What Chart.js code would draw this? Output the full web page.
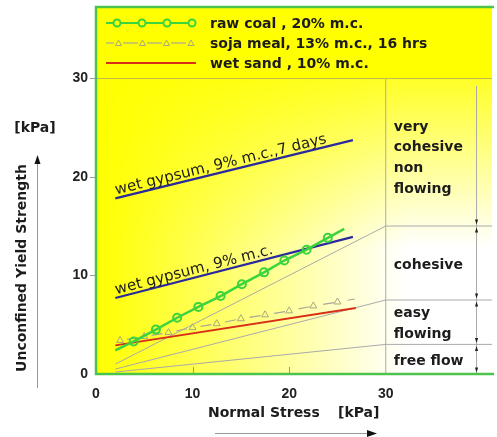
<!DOCTYPE html>
<html><head><meta charset="utf-8">
<script src="https://cdn.jsdelivr.net/npm/chart.js@4.4.1/dist/chart.umd.min.js"></script>
<style>html,body{margin:0;padding:0;background:#fff;overflow:hidden}#wrap{width:497px;height:437px;position:relative}</style>
</head><body><div id="wrap"><canvas id="c"></canvas></div>
<script>
// ---- data ----
const xTicks = [0, 10, 20, 30];
const yTicks = [0, 10, 20, 30];

const legendLabels = ['raw coal , 20% m.c.', 'soja meal, 13% m.c., 16 hrs', 'wet sand , 10% m.c.'];

const coalX = [2, 3.9, 6.2, 8.4, 10.6, 12.9, 15.1, 17.4, 19.5, 21.8, 24.0, 25.7];
const coalY = [2.4, 3.3, 4.5, 5.7, 6.8, 7.9, 9.1, 10.3, 11.5, 12.6, 13.8, 14.7];

const sojaX = [2.5, 5, 7.5, 10, 12.5, 15, 17.5, 20, 22.5, 25, 26.8];
const sojaY = [3.4, 3.8, 4.2, 4.7, 5.1, 5.6, 6.0, 6.4, 6.9, 7.3, 7.6];

const sandX = [2, 26.9];
const sandY = [2.9, 6.7];

const gypsumLabels = ['wet gypsum, 9% m.c.,7 days', 'wet gypsum, 9% m.c.'];
const gyp7X = [2, 26.6];
const gyp7Y = [17.8, 23.7];
const gyp9X = [2, 26.6];
const gyp9Y = [7.7, 13.9];

// flow-function limit lines (ffc = 2, 4, 10)
const ffcX = [2, 30, 41];
const ffc2Y = [1, 15, 15];
const ffc4Y = [0.5, 7.5, 7.5];
const ffc10Y = [0.2, 3, 3];
const limitX = [30, 30];
const limitY = [0, 30];
const barX = [39.4, 39.4];
const barY = [0, 29.2];
const bandEdges = [0, 3, 7.5, 15, 29.2];
const regionLabels = [['free flow'], ['easy', 'flowing'], ['cohesive'], ['very', 'cohesive', 'non', 'flowing']];

const xTitle = ['Normal Stress', '[kPa]'];
const yTitle = ['Unconfined Yield Strength', '[kPa]'];

// ---- styles ----
const GREEN = '#3cd43c';
const SOJA = '#a8a898';
const RED = '#d83018';
const BLUE = '#2a2a9c';
const GRAY = '#aaaaaa';
const TXT = '#1c1c1c';
const BOLD = 'bold 14px "DejaVu Sans"';

const pts = (xs, ys) => xs.map((x, i) => ({x, y: ys[i]}));
const plain = (xs, ys, color, w) => ({data: pts(xs, ys), showLine: true, borderColor: color, borderWidth: w, pointRadius: 0, fill: false});

function tri(ctx, x, y, dir, w, h) {
  ctx.beginPath();
  ctx.moveTo(x, y);
  ctx.lineTo(x - w, y - dir * h);
  ctx.lineTo(x + w, y - dir * h);
  ctx.closePath();
  ctx.fill();
}

const deco = {
  id: 'deco',
  beforeDatasetsDraw(chart) {
    const {ctx, chartArea: a} = chart;
    ctx.save();
    ctx.fillStyle = '#ffff00';
    ctx.fillRect(a.left, 7, a.right - a.left, a.top - 7);
    ctx.fillStyle = '#ffffff';
    ctx.fillRect(a.left, a.top, a.right - a.left, a.bottom - a.top);
    const g = ctx.createLinearGradient(a.left, 0, a.left + 310, 0);
    g.addColorStop(0, 'rgba(255,255,0,1)');
    g.addColorStop(0.3, 'rgba(255,255,0,0.7)');
    g.addColorStop(1, 'rgba(255,255,0,0)');
    ctx.fillStyle = g;
    ctx.fillRect(a.left, a.top, a.right - a.left, a.bottom - a.top);
    const g2 = ctx.createLinearGradient(0, a.top, 0, a.top + 170);
    g2.addColorStop(0, 'rgba(255,255,0,0.85)');
    g2.addColorStop(1, 'rgba(255,255,0,0)');
    ctx.fillStyle = g2;
    ctx.fillRect(a.left, a.top, a.right - a.left, a.bottom - a.top);
    ctx.restore();
  },
  afterDatasetsDraw(chart) {
    const {ctx, scales: {x, y}} = chart;
    ctx.save();
    ctx.fillStyle = TXT;
    ctx.font = '15px "DejaVu Sans"';
    ctx.textBaseline = 'alphabetic';
    [[gyp7X, gyp7Y, gypsumLabels[0]], [gyp9X, gyp9Y, gypsumLabels[1]]].forEach(([xs, ys, t]) => {
      const x0 = x.getPixelForValue(xs[0]), y0 = y.getPixelForValue(ys[0]);
      const x1 = x.getPixelForValue(xs[xs.length - 1]), y1 = y.getPixelForValue(ys[ys.length - 1]);
      const ang = Math.atan2(y1 - y0, x1 - x0);
      ctx.save();
      ctx.translate(x0 + 2, y0);
      ctx.rotate(ang);
      ctx.fillText(t, 0, -4);
      ctx.restore();
    });
    ctx.restore();
  },
  afterDraw(chart) {
    const {ctx, chartArea: a, scales: {x, y}} = chart;
    ctx.save();
    // separator at top of plot
    ctx.strokeStyle = '#c4bc48';
    ctx.lineWidth = 1;
    ctx.beginPath(); ctx.moveTo(a.left, a.top + 0.5); ctx.lineTo(a.right, a.top + 0.5); ctx.stroke();
    // frame
    ctx.strokeStyle = '#4cc44c';
    ctx.lineWidth = 2.5;
    ctx.beginPath();
    ctx.moveTo(a.right + 2, 7); ctx.lineTo(a.left, 7); ctx.lineTo(a.left, a.bottom); ctx.lineTo(a.right + 2, a.bottom);
    ctx.stroke();
    // tick marks
    ctx.strokeStyle = '#999';
    ctx.lineWidth = 1;
    xTicks.slice(1, 3).forEach(v => {
      const px = Math.round(x.getPixelForValue(v)) + 0.5;
      ctx.beginPath(); ctx.moveTo(px, a.bottom - 1); ctx.lineTo(px, a.bottom - 7); ctx.stroke();
    });
    yTicks.slice(1).forEach(v => {
      const py = Math.round(y.getPixelForValue(v)) + 0.5;
      ctx.beginPath(); ctx.moveTo(a.left - 6, py); ctx.lineTo(a.left - 1, py); ctx.stroke();
    });
    // legend
    ctx.font = BOLD;
    ctx.textBaseline = 'middle';
    ctx.fillStyle = TXT;
    legendLabels.forEach((t, i) => {
      const ly = 23 + 20 * i;
      ctx.fillText(t, 210, ly + 1);
    });
    // coal legend
    ctx.strokeStyle = GREEN; ctx.lineWidth = 2;
    ctx.beginPath(); ctx.moveTo(106, 23); ctx.lineTo(196, 23); ctx.stroke();
    [117, 142, 167, 192].forEach(px => {
      ctx.fillStyle = '#ffff00';
      ctx.beginPath(); ctx.arc(px, 23, 3.5, 0, Math.PI * 2); ctx.fill(); ctx.stroke();
    });
    // soja legend
    ctx.strokeStyle = SOJA; ctx.lineWidth = 1.2;
    [[106, 114], [123, 138], [147, 162], [171, 186]].forEach(([s, e]) => {
      ctx.beginPath(); ctx.moveTo(s, 43); ctx.lineTo(e, 43); ctx.stroke();
    });
    ctx.strokeStyle = '#a8a880'; ctx.lineWidth = 1;
    [118.5, 142.5, 166.5, 191].forEach(px => {
      ctx.beginPath(); ctx.moveTo(px, 40); ctx.lineTo(px + 3, 45.5); ctx.lineTo(px - 3, 45.5); ctx.closePath(); ctx.stroke();
    });
    // sand legend
    ctx.strokeStyle = RED; ctx.lineWidth = 2;
    ctx.beginPath(); ctx.moveTo(106, 63); ctx.lineTo(196, 63); ctx.stroke();

    // region labels
    ctx.fillStyle = TXT;
    ctx.font = BOLD;
    ctx.textBaseline = 'middle';
    const lx = x.getPixelForValue(30) + 8;
    regionLabels.forEach((lines, i) => {
      const yc = (y.getPixelForValue(bandEdges[i]) + y.getPixelForValue(bandEdges[i + 1])) / 2 + 2;
      const lh = 20.7;
      lines.forEach((t, j) => {
        ctx.fillText(t, lx, yc + (j - (lines.length - 1) / 2) * lh);
      });
    });
    // dimension arrows on right bar
    ctx.fillStyle = '#222';
    const bx = x.getPixelForValue(barX[0]);
    bandEdges.slice(0, 4).forEach((v, i) => {
      const py = y.getPixelForValue(v);
      tri(ctx, bx, py - 1.5, 1, 1.6, 5);
      if (i > 0) tri(ctx, bx, py + 1.5, -1, 1.6, 5);
    });

    // axis titles
    ctx.fillStyle = TXT;
    ctx.font = BOLD;
    ctx.textBaseline = 'middle';
    ctx.textAlign = 'left';
    ctx.fillText(xTitle[0], 208, 413);
    ctx.fillText(xTitle[1], 338, 413);
    ctx.textAlign = 'center';
    ctx.fillText(yTitle[1], 35, 128);
    ctx.save();
    ctx.translate(22, 268);
    ctx.rotate(-Math.PI / 2);
    ctx.fillText(yTitle[0], 0, 0);
    ctx.restore();
    // axis arrows
    ctx.strokeStyle = '#999'; ctx.lineWidth = 1;
    ctx.beginPath(); ctx.moveTo(37.5, 388); ctx.lineTo(37.5, 162); ctx.stroke();
    ctx.fillStyle = '#111';
    ctx.beginPath(); ctx.moveTo(37.5, 155); ctx.lineTo(34.5, 164); ctx.lineTo(40.5, 164); ctx.closePath(); ctx.fill();
    ctx.beginPath(); ctx.moveTo(215, 433.5); ctx.lineTo(368, 433.5); ctx.stroke();
    ctx.beginPath(); ctx.moveTo(377, 433.5); ctx.lineTo(367, 430); ctx.lineTo(367, 437); ctx.closePath(); ctx.fill();
    ctx.restore();
  }
};

const tickFont = {family: '"Liberation Sans", Arial, sans-serif', size: 14, weight: 'bold'};

new Chart(document.getElementById('c'), {
  type: 'scatter',
  data: {
    datasets: [
      {label: legendLabels[0], data: pts(coalX, coalY), showLine: true, borderColor: GREEN, borderWidth: 2.5,
       pointRadius: c => (c.dataIndex === 0 || c.dataIndex === coalX.length - 1) ? 0 : 4,
       pointBorderColor: GREEN, pointBackgroundColor: 'rgba(0,0,0,0)', pointBorderWidth: 2},
      {label: legendLabels[1], data: pts(sojaX, sojaY), showLine: true, borderColor: SOJA, borderWidth: 1.2,
       borderDash: [11, 13.9], borderDashOffset: 17.9, pointStyle: 'triangle',
       pointRadius: c => c.dataIndex === sojaX.length - 1 ? 0 : 4,
       pointBorderColor: '#a8a880', pointBackgroundColor: 'rgba(0,0,0,0)', pointBorderWidth: 1},
      Object.assign({label: legendLabels[2]}, plain(sandX, sandY, RED, 2)),
      Object.assign({label: gypsumLabels[1]}, plain(gyp9X, gyp9Y, BLUE, 2.2)),
      Object.assign({label: gypsumLabels[0]}, plain(gyp7X, gyp7Y, BLUE, 2.2)),
      plain(ffcX, ffc2Y, GRAY, 1),
      plain(ffcX, ffc4Y, GRAY, 1),
      plain(ffcX, ffc10Y, GRAY, 1),
      plain(limitX, limitY, GRAY, 1),
      plain(barX, barY, GRAY, 1)
    ]
  },
  options: {
    animation: false,
    responsive: true,
    maintainAspectRatio: false,
    layout: {padding: {top: 78, left: 0, right: 0, bottom: 0}},
    plugins: {legend: {display: false}, tooltip: {enabled: false}},
    scales: {
      x: {type: 'linear', min: 0, max: 41,
          afterBuildTicks: s => { s.ticks = xTicks.map(v => ({value: v})); },
          afterFit: s => { s.height = 63; },
          grid: {display: false, drawTicks: false}, border: {display: false},
          ticks: {padding: 12, color: '#222', font: tickFont, maxRotation: 0, autoSkip: false}},
      y: {type: 'linear', min: 0, max: 30,
          afterBuildTicks: s => { s.ticks = yTicks.map(v => ({value: v})); },
          afterFit: s => { s.width = 96; },
          grid: {display: false, drawTicks: false}, border: {display: false},
          ticks: {padding: 8, color: '#222', font: tickFont, autoSkip: false}}
    }
  },
  plugins: [deco]
});
</script>
</body></html>
